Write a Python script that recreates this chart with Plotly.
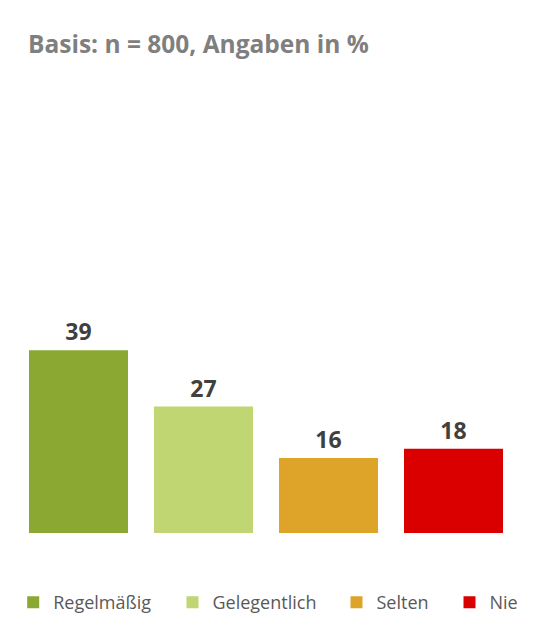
import plotly.graph_objects as go

categories = ["Regelmäßig", "Gelegentlich", "Selten", "Nie"]
values = [39, 27, 16, 18]
colors = ["#8BA832", "#BFD672", "#DEA42A", "#DA0000"]

# one legend per entry so each can sit where the original has it
legend_ids = ["legend", "legend2", "legend3", "legend4"]
legend_x = [-0.0056, 0.313, 0.641, 0.867]

fig = go.Figure()

for cat, val, col, lg in zip(categories, values, colors, legend_ids):
    fig.add_trace(
        go.Bar(
            x=[cat],
            y=[val],
            name=cat,
            legend=lg,
            marker=dict(color=col, line=dict(width=0)),
            text=[str(val)],
            textposition="outside",
            textfont=dict(family="Open Sans", size=23, color="#404040", weight="bold"),
            cliponaxis=False,
            hoverinfo="x+y",
        )
    )

legend_style = dict(
    orientation="h",
    xanchor="left",
    y=-0.2473,
    yanchor="middle",
    font=dict(family="Open Sans", size=18, color="#595959"),
    bgcolor="rgba(0,0,0,0)",
)
legends = {}
for lg, lx in zip(legend_ids, legend_x):
    legends[lg] = dict(legend_style, x=lx)

fig.update_layout(
    width=544,
    height=633,
    title=dict(
        text="<b>Basis: n = 800, Angaben in %</b>",
        font=dict(family="Open Sans", size=24.5, color="#7F7F7F"),
        x=20 / 544,
        xanchor="left",
        y=1 - 36 / 633,
        yanchor="middle",
    ),
    barmode="overlay",
    bargap=0.208,
    showlegend=True,
    xaxis=dict(
        categoryorder="array",
        categoryarray=categories,
        range=[-0.5, 3.5],
        showticklabels=False,
        showgrid=False,
        zeroline=False,
        showline=False,
        ticks="",
    ),
    yaxis=dict(
        range=[0, 60],
        visible=False,
        showgrid=False,
        zeroline=False,
    ),
    plot_bgcolor="white",
    paper_bgcolor="white",
    margin=dict(l=8, r=36, t=244, b=108, autoexpand=False),
    **legends,
)

fig.write_html("out.html")
